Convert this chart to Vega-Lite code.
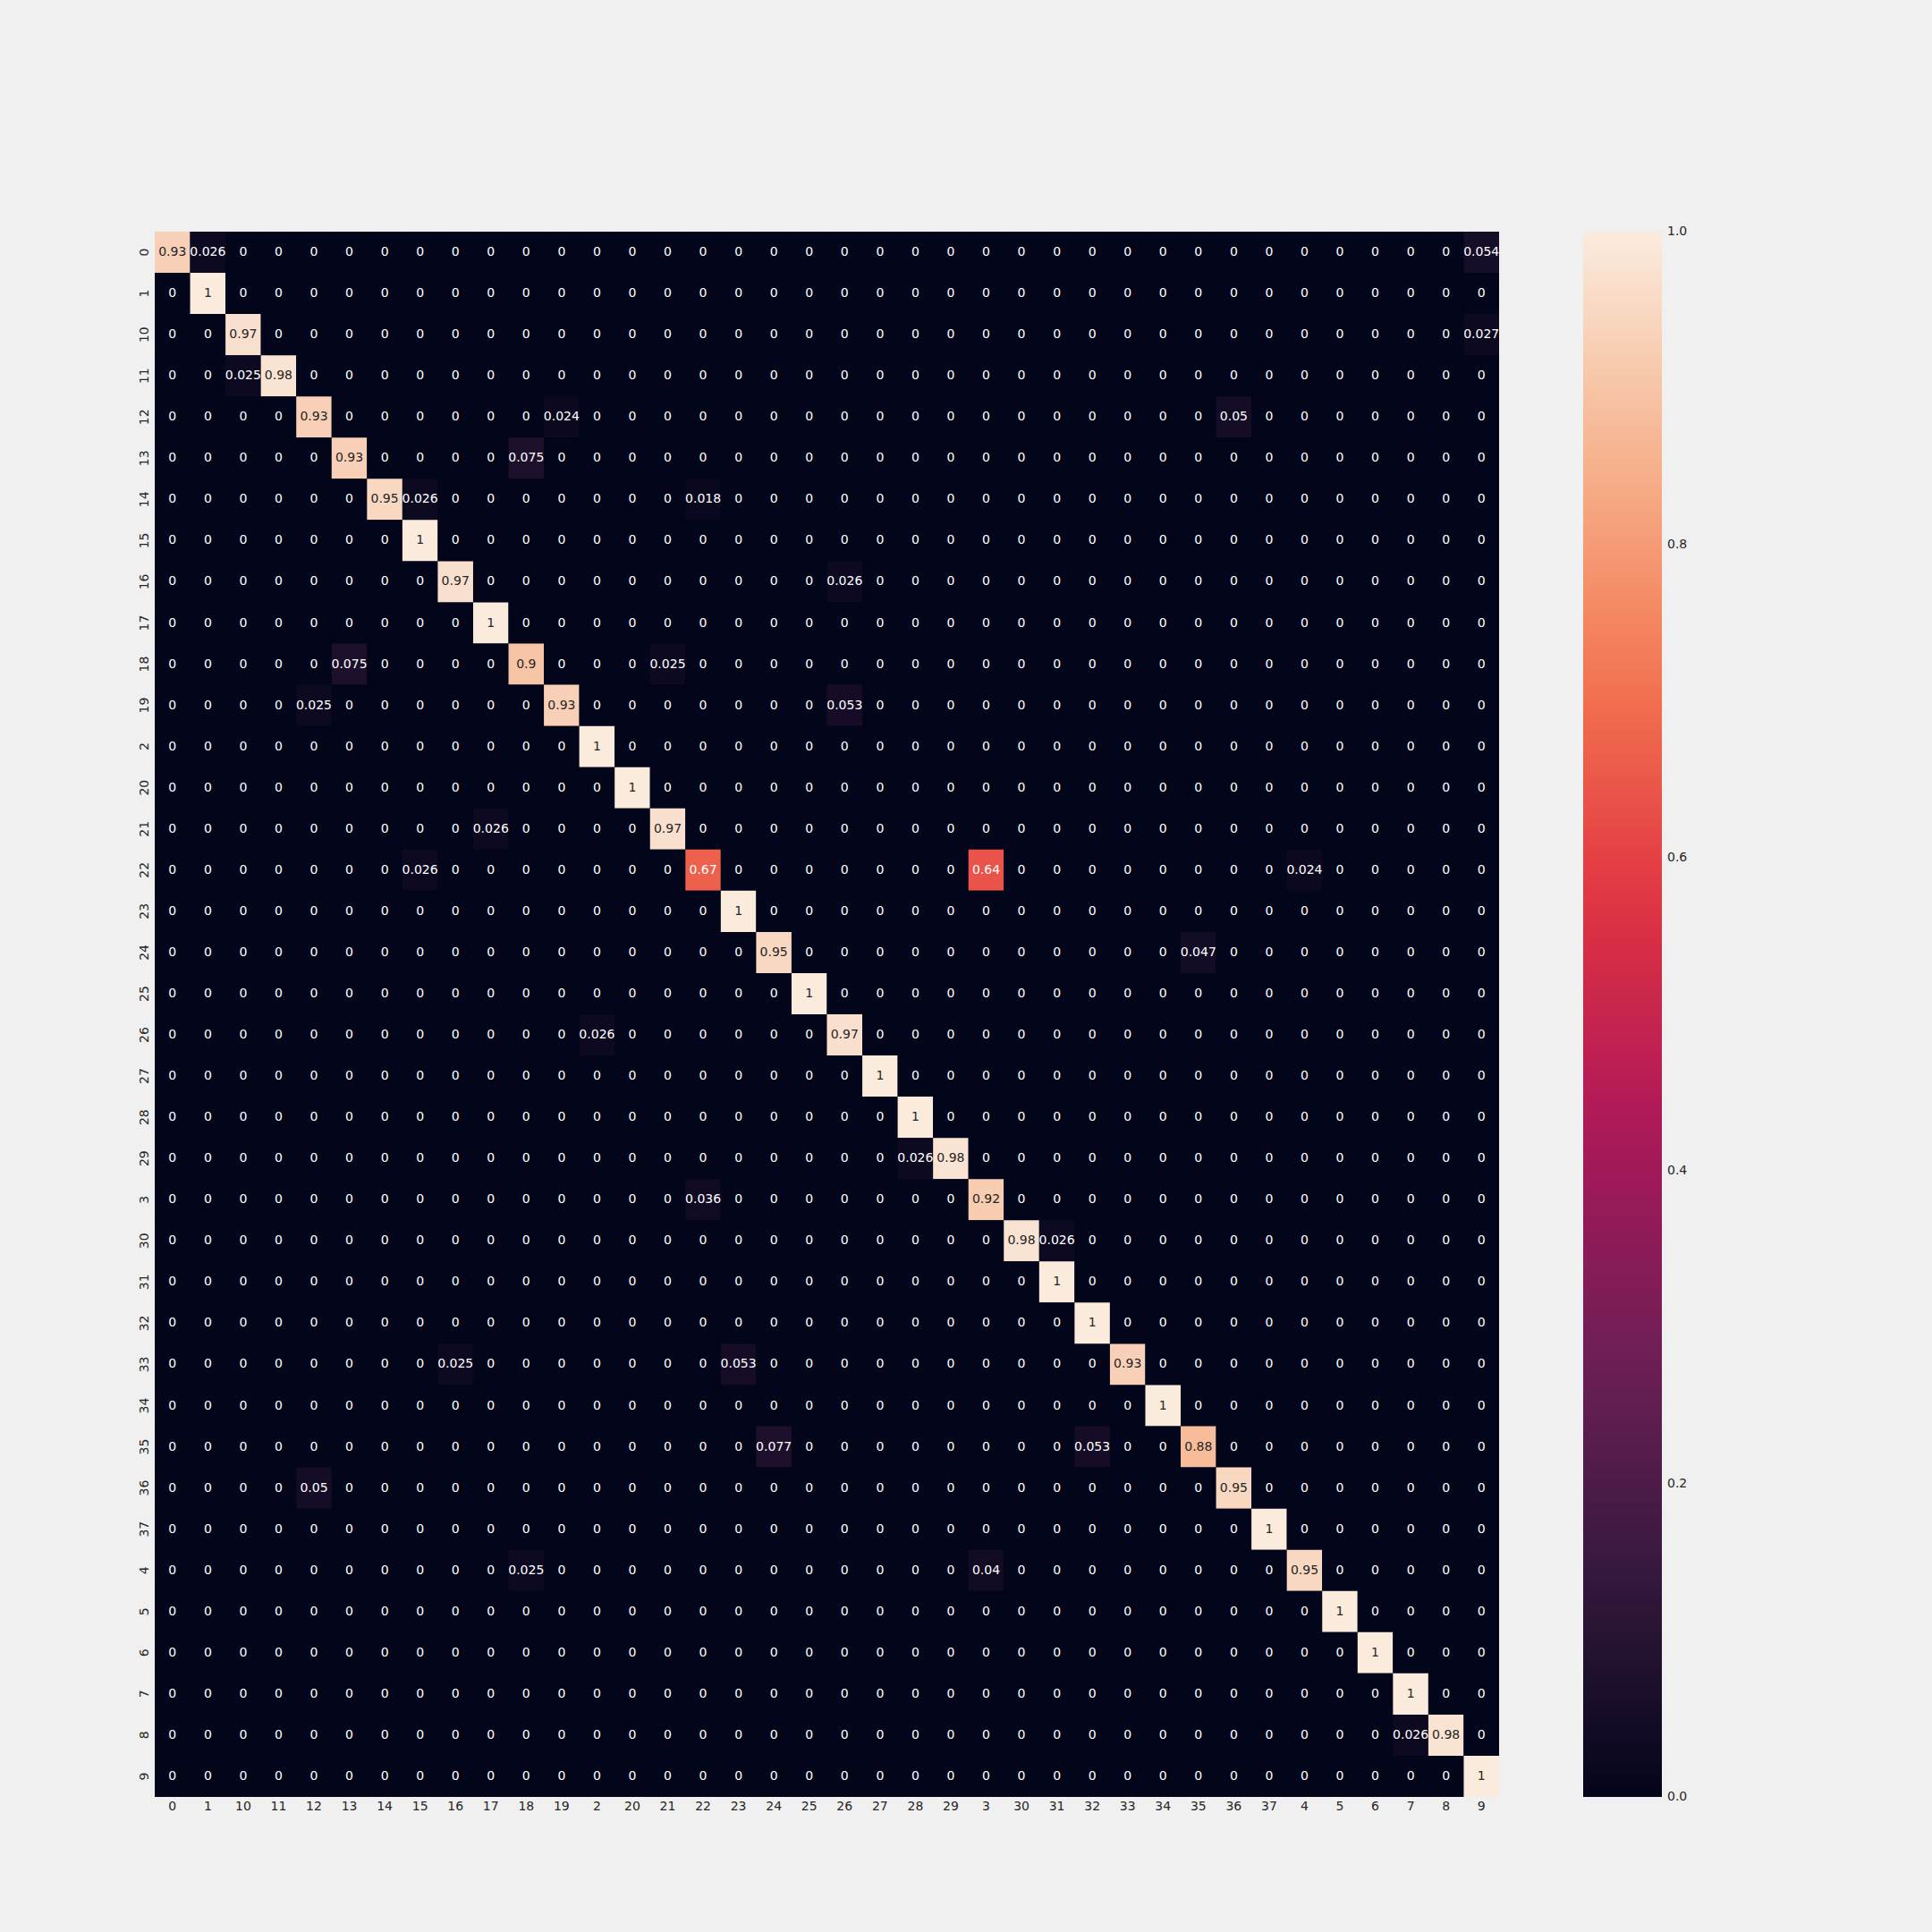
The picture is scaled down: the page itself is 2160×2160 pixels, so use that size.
{
"$schema":"https://vega.github.io/schema/vega-lite/v6.json",
"background":"#f0f0f0",
"autosize":{"type":"none"},
"padding":{"left":173,"top":259,"right":484,"bottom":151},
"width":1503,
"height":1750,
"config":{"view":{"stroke":null,"fill":"#03051a"},"font":"DejaVu Sans","axis":{"domain":false,"ticks":false,"labelFontSize":14,"labelColor":"#262626","labelFont":"DejaVu Sans","title":null,"grid":false}},
"datasets":{"cm":[
{"t":"0","p":"0","v":0.93},{"t":"0","p":"1","v":0.026},{"t":"0","p":"10","v":0},{"t":"0","p":"11","v":0},{"t":"0","p":"12","v":0},{"t":"0","p":"13","v":0},{"t":"0","p":"14","v":0},{"t":"0","p":"15","v":0},{"t":"0","p":"16","v":0},{"t":"0","p":"17","v":0},{"t":"0","p":"18","v":0},{"t":"0","p":"19","v":0},{"t":"0","p":"2","v":0},{"t":"0","p":"20","v":0},{"t":"0","p":"21","v":0},{"t":"0","p":"22","v":0},{"t":"0","p":"23","v":0},{"t":"0","p":"24","v":0},{"t":"0","p":"25","v":0},{"t":"0","p":"26","v":0},{"t":"0","p":"27","v":0},{"t":"0","p":"28","v":0},{"t":"0","p":"29","v":0},{"t":"0","p":"3","v":0},{"t":"0","p":"30","v":0},{"t":"0","p":"31","v":0},{"t":"0","p":"32","v":0},{"t":"0","p":"33","v":0},{"t":"0","p":"34","v":0},{"t":"0","p":"35","v":0},{"t":"0","p":"36","v":0},{"t":"0","p":"37","v":0},{"t":"0","p":"4","v":0},{"t":"0","p":"5","v":0},{"t":"0","p":"6","v":0},{"t":"0","p":"7","v":0},{"t":"0","p":"8","v":0},{"t":"0","p":"9","v":0.054},
{"t":"1","p":"0","v":0},{"t":"1","p":"1","v":1},{"t":"1","p":"10","v":0},{"t":"1","p":"11","v":0},{"t":"1","p":"12","v":0},{"t":"1","p":"13","v":0},{"t":"1","p":"14","v":0},{"t":"1","p":"15","v":0},{"t":"1","p":"16","v":0},{"t":"1","p":"17","v":0},{"t":"1","p":"18","v":0},{"t":"1","p":"19","v":0},{"t":"1","p":"2","v":0},{"t":"1","p":"20","v":0},{"t":"1","p":"21","v":0},{"t":"1","p":"22","v":0},{"t":"1","p":"23","v":0},{"t":"1","p":"24","v":0},{"t":"1","p":"25","v":0},{"t":"1","p":"26","v":0},{"t":"1","p":"27","v":0},{"t":"1","p":"28","v":0},{"t":"1","p":"29","v":0},{"t":"1","p":"3","v":0},{"t":"1","p":"30","v":0},{"t":"1","p":"31","v":0},{"t":"1","p":"32","v":0},{"t":"1","p":"33","v":0},{"t":"1","p":"34","v":0},{"t":"1","p":"35","v":0},{"t":"1","p":"36","v":0},{"t":"1","p":"37","v":0},{"t":"1","p":"4","v":0},{"t":"1","p":"5","v":0},{"t":"1","p":"6","v":0},{"t":"1","p":"7","v":0},{"t":"1","p":"8","v":0},{"t":"1","p":"9","v":0},
{"t":"10","p":"0","v":0},{"t":"10","p":"1","v":0},{"t":"10","p":"10","v":0.97},{"t":"10","p":"11","v":0},{"t":"10","p":"12","v":0},{"t":"10","p":"13","v":0},{"t":"10","p":"14","v":0},{"t":"10","p":"15","v":0},{"t":"10","p":"16","v":0},{"t":"10","p":"17","v":0},{"t":"10","p":"18","v":0},{"t":"10","p":"19","v":0},{"t":"10","p":"2","v":0},{"t":"10","p":"20","v":0},{"t":"10","p":"21","v":0},{"t":"10","p":"22","v":0},{"t":"10","p":"23","v":0},{"t":"10","p":"24","v":0},{"t":"10","p":"25","v":0},{"t":"10","p":"26","v":0},{"t":"10","p":"27","v":0},{"t":"10","p":"28","v":0},{"t":"10","p":"29","v":0},{"t":"10","p":"3","v":0},{"t":"10","p":"30","v":0},{"t":"10","p":"31","v":0},{"t":"10","p":"32","v":0},{"t":"10","p":"33","v":0},{"t":"10","p":"34","v":0},{"t":"10","p":"35","v":0},{"t":"10","p":"36","v":0},{"t":"10","p":"37","v":0},{"t":"10","p":"4","v":0},{"t":"10","p":"5","v":0},{"t":"10","p":"6","v":0},{"t":"10","p":"7","v":0},{"t":"10","p":"8","v":0},{"t":"10","p":"9","v":0.027},
{"t":"11","p":"0","v":0},{"t":"11","p":"1","v":0},{"t":"11","p":"10","v":0.025},{"t":"11","p":"11","v":0.98},{"t":"11","p":"12","v":0},{"t":"11","p":"13","v":0},{"t":"11","p":"14","v":0},{"t":"11","p":"15","v":0},{"t":"11","p":"16","v":0},{"t":"11","p":"17","v":0},{"t":"11","p":"18","v":0},{"t":"11","p":"19","v":0},{"t":"11","p":"2","v":0},{"t":"11","p":"20","v":0},{"t":"11","p":"21","v":0},{"t":"11","p":"22","v":0},{"t":"11","p":"23","v":0},{"t":"11","p":"24","v":0},{"t":"11","p":"25","v":0},{"t":"11","p":"26","v":0},{"t":"11","p":"27","v":0},{"t":"11","p":"28","v":0},{"t":"11","p":"29","v":0},{"t":"11","p":"3","v":0},{"t":"11","p":"30","v":0},{"t":"11","p":"31","v":0},{"t":"11","p":"32","v":0},{"t":"11","p":"33","v":0},{"t":"11","p":"34","v":0},{"t":"11","p":"35","v":0},{"t":"11","p":"36","v":0},{"t":"11","p":"37","v":0},{"t":"11","p":"4","v":0},{"t":"11","p":"5","v":0},{"t":"11","p":"6","v":0},{"t":"11","p":"7","v":0},{"t":"11","p":"8","v":0},{"t":"11","p":"9","v":0},
{"t":"12","p":"0","v":0},{"t":"12","p":"1","v":0},{"t":"12","p":"10","v":0},{"t":"12","p":"11","v":0},{"t":"12","p":"12","v":0.93},{"t":"12","p":"13","v":0},{"t":"12","p":"14","v":0},{"t":"12","p":"15","v":0},{"t":"12","p":"16","v":0},{"t":"12","p":"17","v":0},{"t":"12","p":"18","v":0},{"t":"12","p":"19","v":0.024},{"t":"12","p":"2","v":0},{"t":"12","p":"20","v":0},{"t":"12","p":"21","v":0},{"t":"12","p":"22","v":0},{"t":"12","p":"23","v":0},{"t":"12","p":"24","v":0},{"t":"12","p":"25","v":0},{"t":"12","p":"26","v":0},{"t":"12","p":"27","v":0},{"t":"12","p":"28","v":0},{"t":"12","p":"29","v":0},{"t":"12","p":"3","v":0},{"t":"12","p":"30","v":0},{"t":"12","p":"31","v":0},{"t":"12","p":"32","v":0},{"t":"12","p":"33","v":0},{"t":"12","p":"34","v":0},{"t":"12","p":"35","v":0},{"t":"12","p":"36","v":0.05},{"t":"12","p":"37","v":0},{"t":"12","p":"4","v":0},{"t":"12","p":"5","v":0},{"t":"12","p":"6","v":0},{"t":"12","p":"7","v":0},{"t":"12","p":"8","v":0},{"t":"12","p":"9","v":0},
{"t":"13","p":"0","v":0},{"t":"13","p":"1","v":0},{"t":"13","p":"10","v":0},{"t":"13","p":"11","v":0},{"t":"13","p":"12","v":0},{"t":"13","p":"13","v":0.93},{"t":"13","p":"14","v":0},{"t":"13","p":"15","v":0},{"t":"13","p":"16","v":0},{"t":"13","p":"17","v":0},{"t":"13","p":"18","v":0.075},{"t":"13","p":"19","v":0},{"t":"13","p":"2","v":0},{"t":"13","p":"20","v":0},{"t":"13","p":"21","v":0},{"t":"13","p":"22","v":0},{"t":"13","p":"23","v":0},{"t":"13","p":"24","v":0},{"t":"13","p":"25","v":0},{"t":"13","p":"26","v":0},{"t":"13","p":"27","v":0},{"t":"13","p":"28","v":0},{"t":"13","p":"29","v":0},{"t":"13","p":"3","v":0},{"t":"13","p":"30","v":0},{"t":"13","p":"31","v":0},{"t":"13","p":"32","v":0},{"t":"13","p":"33","v":0},{"t":"13","p":"34","v":0},{"t":"13","p":"35","v":0},{"t":"13","p":"36","v":0},{"t":"13","p":"37","v":0},{"t":"13","p":"4","v":0},{"t":"13","p":"5","v":0},{"t":"13","p":"6","v":0},{"t":"13","p":"7","v":0},{"t":"13","p":"8","v":0},{"t":"13","p":"9","v":0},
{"t":"14","p":"0","v":0},{"t":"14","p":"1","v":0},{"t":"14","p":"10","v":0},{"t":"14","p":"11","v":0},{"t":"14","p":"12","v":0},{"t":"14","p":"13","v":0},{"t":"14","p":"14","v":0.95},{"t":"14","p":"15","v":0.026},{"t":"14","p":"16","v":0},{"t":"14","p":"17","v":0},{"t":"14","p":"18","v":0},{"t":"14","p":"19","v":0},{"t":"14","p":"2","v":0},{"t":"14","p":"20","v":0},{"t":"14","p":"21","v":0},{"t":"14","p":"22","v":0.018},{"t":"14","p":"23","v":0},{"t":"14","p":"24","v":0},{"t":"14","p":"25","v":0},{"t":"14","p":"26","v":0},{"t":"14","p":"27","v":0},{"t":"14","p":"28","v":0},{"t":"14","p":"29","v":0},{"t":"14","p":"3","v":0},{"t":"14","p":"30","v":0},{"t":"14","p":"31","v":0},{"t":"14","p":"32","v":0},{"t":"14","p":"33","v":0},{"t":"14","p":"34","v":0},{"t":"14","p":"35","v":0},{"t":"14","p":"36","v":0},{"t":"14","p":"37","v":0},{"t":"14","p":"4","v":0},{"t":"14","p":"5","v":0},{"t":"14","p":"6","v":0},{"t":"14","p":"7","v":0},{"t":"14","p":"8","v":0},{"t":"14","p":"9","v":0},
{"t":"15","p":"0","v":0},{"t":"15","p":"1","v":0},{"t":"15","p":"10","v":0},{"t":"15","p":"11","v":0},{"t":"15","p":"12","v":0},{"t":"15","p":"13","v":0},{"t":"15","p":"14","v":0},{"t":"15","p":"15","v":1},{"t":"15","p":"16","v":0},{"t":"15","p":"17","v":0},{"t":"15","p":"18","v":0},{"t":"15","p":"19","v":0},{"t":"15","p":"2","v":0},{"t":"15","p":"20","v":0},{"t":"15","p":"21","v":0},{"t":"15","p":"22","v":0},{"t":"15","p":"23","v":0},{"t":"15","p":"24","v":0},{"t":"15","p":"25","v":0},{"t":"15","p":"26","v":0},{"t":"15","p":"27","v":0},{"t":"15","p":"28","v":0},{"t":"15","p":"29","v":0},{"t":"15","p":"3","v":0},{"t":"15","p":"30","v":0},{"t":"15","p":"31","v":0},{"t":"15","p":"32","v":0},{"t":"15","p":"33","v":0},{"t":"15","p":"34","v":0},{"t":"15","p":"35","v":0},{"t":"15","p":"36","v":0},{"t":"15","p":"37","v":0},{"t":"15","p":"4","v":0},{"t":"15","p":"5","v":0},{"t":"15","p":"6","v":0},{"t":"15","p":"7","v":0},{"t":"15","p":"8","v":0},{"t":"15","p":"9","v":0},
{"t":"16","p":"0","v":0},{"t":"16","p":"1","v":0},{"t":"16","p":"10","v":0},{"t":"16","p":"11","v":0},{"t":"16","p":"12","v":0},{"t":"16","p":"13","v":0},{"t":"16","p":"14","v":0},{"t":"16","p":"15","v":0},{"t":"16","p":"16","v":0.97},{"t":"16","p":"17","v":0},{"t":"16","p":"18","v":0},{"t":"16","p":"19","v":0},{"t":"16","p":"2","v":0},{"t":"16","p":"20","v":0},{"t":"16","p":"21","v":0},{"t":"16","p":"22","v":0},{"t":"16","p":"23","v":0},{"t":"16","p":"24","v":0},{"t":"16","p":"25","v":0},{"t":"16","p":"26","v":0.026},{"t":"16","p":"27","v":0},{"t":"16","p":"28","v":0},{"t":"16","p":"29","v":0},{"t":"16","p":"3","v":0},{"t":"16","p":"30","v":0},{"t":"16","p":"31","v":0},{"t":"16","p":"32","v":0},{"t":"16","p":"33","v":0},{"t":"16","p":"34","v":0},{"t":"16","p":"35","v":0},{"t":"16","p":"36","v":0},{"t":"16","p":"37","v":0},{"t":"16","p":"4","v":0},{"t":"16","p":"5","v":0},{"t":"16","p":"6","v":0},{"t":"16","p":"7","v":0},{"t":"16","p":"8","v":0},{"t":"16","p":"9","v":0},
{"t":"17","p":"0","v":0},{"t":"17","p":"1","v":0},{"t":"17","p":"10","v":0},{"t":"17","p":"11","v":0},{"t":"17","p":"12","v":0},{"t":"17","p":"13","v":0},{"t":"17","p":"14","v":0},{"t":"17","p":"15","v":0},{"t":"17","p":"16","v":0},{"t":"17","p":"17","v":1},{"t":"17","p":"18","v":0},{"t":"17","p":"19","v":0},{"t":"17","p":"2","v":0},{"t":"17","p":"20","v":0},{"t":"17","p":"21","v":0},{"t":"17","p":"22","v":0},{"t":"17","p":"23","v":0},{"t":"17","p":"24","v":0},{"t":"17","p":"25","v":0},{"t":"17","p":"26","v":0},{"t":"17","p":"27","v":0},{"t":"17","p":"28","v":0},{"t":"17","p":"29","v":0},{"t":"17","p":"3","v":0},{"t":"17","p":"30","v":0},{"t":"17","p":"31","v":0},{"t":"17","p":"32","v":0},{"t":"17","p":"33","v":0},{"t":"17","p":"34","v":0},{"t":"17","p":"35","v":0},{"t":"17","p":"36","v":0},{"t":"17","p":"37","v":0},{"t":"17","p":"4","v":0},{"t":"17","p":"5","v":0},{"t":"17","p":"6","v":0},{"t":"17","p":"7","v":0},{"t":"17","p":"8","v":0},{"t":"17","p":"9","v":0},
{"t":"18","p":"0","v":0},{"t":"18","p":"1","v":0},{"t":"18","p":"10","v":0},{"t":"18","p":"11","v":0},{"t":"18","p":"12","v":0},{"t":"18","p":"13","v":0.075},{"t":"18","p":"14","v":0},{"t":"18","p":"15","v":0},{"t":"18","p":"16","v":0},{"t":"18","p":"17","v":0},{"t":"18","p":"18","v":0.9},{"t":"18","p":"19","v":0},{"t":"18","p":"2","v":0},{"t":"18","p":"20","v":0},{"t":"18","p":"21","v":0.025},{"t":"18","p":"22","v":0},{"t":"18","p":"23","v":0},{"t":"18","p":"24","v":0},{"t":"18","p":"25","v":0},{"t":"18","p":"26","v":0},{"t":"18","p":"27","v":0},{"t":"18","p":"28","v":0},{"t":"18","p":"29","v":0},{"t":"18","p":"3","v":0},{"t":"18","p":"30","v":0},{"t":"18","p":"31","v":0},{"t":"18","p":"32","v":0},{"t":"18","p":"33","v":0},{"t":"18","p":"34","v":0},{"t":"18","p":"35","v":0},{"t":"18","p":"36","v":0},{"t":"18","p":"37","v":0},{"t":"18","p":"4","v":0},{"t":"18","p":"5","v":0},{"t":"18","p":"6","v":0},{"t":"18","p":"7","v":0},{"t":"18","p":"8","v":0},{"t":"18","p":"9","v":0},
{"t":"19","p":"0","v":0},{"t":"19","p":"1","v":0},{"t":"19","p":"10","v":0},{"t":"19","p":"11","v":0},{"t":"19","p":"12","v":0.025},{"t":"19","p":"13","v":0},{"t":"19","p":"14","v":0},{"t":"19","p":"15","v":0},{"t":"19","p":"16","v":0},{"t":"19","p":"17","v":0},{"t":"19","p":"18","v":0},{"t":"19","p":"19","v":0.93},{"t":"19","p":"2","v":0},{"t":"19","p":"20","v":0},{"t":"19","p":"21","v":0},{"t":"19","p":"22","v":0},{"t":"19","p":"23","v":0},{"t":"19","p":"24","v":0},{"t":"19","p":"25","v":0},{"t":"19","p":"26","v":0.053},{"t":"19","p":"27","v":0},{"t":"19","p":"28","v":0},{"t":"19","p":"29","v":0},{"t":"19","p":"3","v":0},{"t":"19","p":"30","v":0},{"t":"19","p":"31","v":0},{"t":"19","p":"32","v":0},{"t":"19","p":"33","v":0},{"t":"19","p":"34","v":0},{"t":"19","p":"35","v":0},{"t":"19","p":"36","v":0},{"t":"19","p":"37","v":0},{"t":"19","p":"4","v":0},{"t":"19","p":"5","v":0},{"t":"19","p":"6","v":0},{"t":"19","p":"7","v":0},{"t":"19","p":"8","v":0},{"t":"19","p":"9","v":0},
{"t":"2","p":"0","v":0},{"t":"2","p":"1","v":0},{"t":"2","p":"10","v":0},{"t":"2","p":"11","v":0},{"t":"2","p":"12","v":0},{"t":"2","p":"13","v":0},{"t":"2","p":"14","v":0},{"t":"2","p":"15","v":0},{"t":"2","p":"16","v":0},{"t":"2","p":"17","v":0},{"t":"2","p":"18","v":0},{"t":"2","p":"19","v":0},{"t":"2","p":"2","v":1},{"t":"2","p":"20","v":0},{"t":"2","p":"21","v":0},{"t":"2","p":"22","v":0},{"t":"2","p":"23","v":0},{"t":"2","p":"24","v":0},{"t":"2","p":"25","v":0},{"t":"2","p":"26","v":0},{"t":"2","p":"27","v":0},{"t":"2","p":"28","v":0},{"t":"2","p":"29","v":0},{"t":"2","p":"3","v":0},{"t":"2","p":"30","v":0},{"t":"2","p":"31","v":0},{"t":"2","p":"32","v":0},{"t":"2","p":"33","v":0},{"t":"2","p":"34","v":0},{"t":"2","p":"35","v":0},{"t":"2","p":"36","v":0},{"t":"2","p":"37","v":0},{"t":"2","p":"4","v":0},{"t":"2","p":"5","v":0},{"t":"2","p":"6","v":0},{"t":"2","p":"7","v":0},{"t":"2","p":"8","v":0},{"t":"2","p":"9","v":0},
{"t":"20","p":"0","v":0},{"t":"20","p":"1","v":0},{"t":"20","p":"10","v":0},{"t":"20","p":"11","v":0},{"t":"20","p":"12","v":0},{"t":"20","p":"13","v":0},{"t":"20","p":"14","v":0},{"t":"20","p":"15","v":0},{"t":"20","p":"16","v":0},{"t":"20","p":"17","v":0},{"t":"20","p":"18","v":0},{"t":"20","p":"19","v":0},{"t":"20","p":"2","v":0},{"t":"20","p":"20","v":1},{"t":"20","p":"21","v":0},{"t":"20","p":"22","v":0},{"t":"20","p":"23","v":0},{"t":"20","p":"24","v":0},{"t":"20","p":"25","v":0},{"t":"20","p":"26","v":0},{"t":"20","p":"27","v":0},{"t":"20","p":"28","v":0},{"t":"20","p":"29","v":0},{"t":"20","p":"3","v":0},{"t":"20","p":"30","v":0},{"t":"20","p":"31","v":0},{"t":"20","p":"32","v":0},{"t":"20","p":"33","v":0},{"t":"20","p":"34","v":0},{"t":"20","p":"35","v":0},{"t":"20","p":"36","v":0},{"t":"20","p":"37","v":0},{"t":"20","p":"4","v":0},{"t":"20","p":"5","v":0},{"t":"20","p":"6","v":0},{"t":"20","p":"7","v":0},{"t":"20","p":"8","v":0},{"t":"20","p":"9","v":0},
{"t":"21","p":"0","v":0},{"t":"21","p":"1","v":0},{"t":"21","p":"10","v":0},{"t":"21","p":"11","v":0},{"t":"21","p":"12","v":0},{"t":"21","p":"13","v":0},{"t":"21","p":"14","v":0},{"t":"21","p":"15","v":0},{"t":"21","p":"16","v":0},{"t":"21","p":"17","v":0.026},{"t":"21","p":"18","v":0},{"t":"21","p":"19","v":0},{"t":"21","p":"2","v":0},{"t":"21","p":"20","v":0},{"t":"21","p":"21","v":0.97},{"t":"21","p":"22","v":0},{"t":"21","p":"23","v":0},{"t":"21","p":"24","v":0},{"t":"21","p":"25","v":0},{"t":"21","p":"26","v":0},{"t":"21","p":"27","v":0},{"t":"21","p":"28","v":0},{"t":"21","p":"29","v":0},{"t":"21","p":"3","v":0},{"t":"21","p":"30","v":0},{"t":"21","p":"31","v":0},{"t":"21","p":"32","v":0},{"t":"21","p":"33","v":0},{"t":"21","p":"34","v":0},{"t":"21","p":"35","v":0},{"t":"21","p":"36","v":0},{"t":"21","p":"37","v":0},{"t":"21","p":"4","v":0},{"t":"21","p":"5","v":0},{"t":"21","p":"6","v":0},{"t":"21","p":"7","v":0},{"t":"21","p":"8","v":0},{"t":"21","p":"9","v":0},
{"t":"22","p":"0","v":0},{"t":"22","p":"1","v":0},{"t":"22","p":"10","v":0},{"t":"22","p":"11","v":0},{"t":"22","p":"12","v":0},{"t":"22","p":"13","v":0},{"t":"22","p":"14","v":0},{"t":"22","p":"15","v":0.026},{"t":"22","p":"16","v":0},{"t":"22","p":"17","v":0},{"t":"22","p":"18","v":0},{"t":"22","p":"19","v":0},{"t":"22","p":"2","v":0},{"t":"22","p":"20","v":0},{"t":"22","p":"21","v":0},{"t":"22","p":"22","v":0.67},{"t":"22","p":"23","v":0},{"t":"22","p":"24","v":0},{"t":"22","p":"25","v":0},{"t":"22","p":"26","v":0},{"t":"22","p":"27","v":0},{"t":"22","p":"28","v":0},{"t":"22","p":"29","v":0},{"t":"22","p":"3","v":0.64},{"t":"22","p":"30","v":0},{"t":"22","p":"31","v":0},{"t":"22","p":"32","v":0},{"t":"22","p":"33","v":0},{"t":"22","p":"34","v":0},{"t":"22","p":"35","v":0},{"t":"22","p":"36","v":0},{"t":"22","p":"37","v":0},{"t":"22","p":"4","v":0.024},{"t":"22","p":"5","v":0},{"t":"22","p":"6","v":0},{"t":"22","p":"7","v":0},{"t":"22","p":"8","v":0},{"t":"22","p":"9","v":0},
{"t":"23","p":"0","v":0},{"t":"23","p":"1","v":0},{"t":"23","p":"10","v":0},{"t":"23","p":"11","v":0},{"t":"23","p":"12","v":0},{"t":"23","p":"13","v":0},{"t":"23","p":"14","v":0},{"t":"23","p":"15","v":0},{"t":"23","p":"16","v":0},{"t":"23","p":"17","v":0},{"t":"23","p":"18","v":0},{"t":"23","p":"19","v":0},{"t":"23","p":"2","v":0},{"t":"23","p":"20","v":0},{"t":"23","p":"21","v":0},{"t":"23","p":"22","v":0},{"t":"23","p":"23","v":1},{"t":"23","p":"24","v":0},{"t":"23","p":"25","v":0},{"t":"23","p":"26","v":0},{"t":"23","p":"27","v":0},{"t":"23","p":"28","v":0},{"t":"23","p":"29","v":0},{"t":"23","p":"3","v":0},{"t":"23","p":"30","v":0},{"t":"23","p":"31","v":0},{"t":"23","p":"32","v":0},{"t":"23","p":"33","v":0},{"t":"23","p":"34","v":0},{"t":"23","p":"35","v":0},{"t":"23","p":"36","v":0},{"t":"23","p":"37","v":0},{"t":"23","p":"4","v":0},{"t":"23","p":"5","v":0},{"t":"23","p":"6","v":0},{"t":"23","p":"7","v":0},{"t":"23","p":"8","v":0},{"t":"23","p":"9","v":0},
{"t":"24","p":"0","v":0},{"t":"24","p":"1","v":0},{"t":"24","p":"10","v":0},{"t":"24","p":"11","v":0},{"t":"24","p":"12","v":0},{"t":"24","p":"13","v":0},{"t":"24","p":"14","v":0},{"t":"24","p":"15","v":0},{"t":"24","p":"16","v":0},{"t":"24","p":"17","v":0},{"t":"24","p":"18","v":0},{"t":"24","p":"19","v":0},{"t":"24","p":"2","v":0},{"t":"24","p":"20","v":0},{"t":"24","p":"21","v":0},{"t":"24","p":"22","v":0},{"t":"24","p":"23","v":0},{"t":"24","p":"24","v":0.95},{"t":"24","p":"25","v":0},{"t":"24","p":"26","v":0},{"t":"24","p":"27","v":0},{"t":"24","p":"28","v":0},{"t":"24","p":"29","v":0},{"t":"24","p":"3","v":0},{"t":"24","p":"30","v":0},{"t":"24","p":"31","v":0},{"t":"24","p":"32","v":0},{"t":"24","p":"33","v":0},{"t":"24","p":"34","v":0},{"t":"24","p":"35","v":0.047},{"t":"24","p":"36","v":0},{"t":"24","p":"37","v":0},{"t":"24","p":"4","v":0},{"t":"24","p":"5","v":0},{"t":"24","p":"6","v":0},{"t":"24","p":"7","v":0},{"t":"24","p":"8","v":0},{"t":"24","p":"9","v":0},
{"t":"25","p":"0","v":0},{"t":"25","p":"1","v":0},{"t":"25","p":"10","v":0},{"t":"25","p":"11","v":0},{"t":"25","p":"12","v":0},{"t":"25","p":"13","v":0},{"t":"25","p":"14","v":0},{"t":"25","p":"15","v":0},{"t":"25","p":"16","v":0},{"t":"25","p":"17","v":0},{"t":"25","p":"18","v":0},{"t":"25","p":"19","v":0},{"t":"25","p":"2","v":0},{"t":"25","p":"20","v":0},{"t":"25","p":"21","v":0},{"t":"25","p":"22","v":0},{"t":"25","p":"23","v":0},{"t":"25","p":"24","v":0},{"t":"25","p":"25","v":1},{"t":"25","p":"26","v":0},{"t":"25","p":"27","v":0},{"t":"25","p":"28","v":0},{"t":"25","p":"29","v":0},{"t":"25","p":"3","v":0},{"t":"25","p":"30","v":0},{"t":"25","p":"31","v":0},{"t":"25","p":"32","v":0},{"t":"25","p":"33","v":0},{"t":"25","p":"34","v":0},{"t":"25","p":"35","v":0},{"t":"25","p":"36","v":0},{"t":"25","p":"37","v":0},{"t":"25","p":"4","v":0},{"t":"25","p":"5","v":0},{"t":"25","p":"6","v":0},{"t":"25","p":"7","v":0},{"t":"25","p":"8","v":0},{"t":"25","p":"9","v":0},
{"t":"26","p":"0","v":0},{"t":"26","p":"1","v":0},{"t":"26","p":"10","v":0},{"t":"26","p":"11","v":0},{"t":"26","p":"12","v":0},{"t":"26","p":"13","v":0},{"t":"26","p":"14","v":0},{"t":"26","p":"15","v":0},{"t":"26","p":"16","v":0},{"t":"26","p":"17","v":0},{"t":"26","p":"18","v":0},{"t":"26","p":"19","v":0},{"t":"26","p":"2","v":0.026},{"t":"26","p":"20","v":0},{"t":"26","p":"21","v":0},{"t":"26","p":"22","v":0},{"t":"26","p":"23","v":0},{"t":"26","p":"24","v":0},{"t":"26","p":"25","v":0},{"t":"26","p":"26","v":0.97},{"t":"26","p":"27","v":0},{"t":"26","p":"28","v":0},{"t":"26","p":"29","v":0},{"t":"26","p":"3","v":0},{"t":"26","p":"30","v":0},{"t":"26","p":"31","v":0},{"t":"26","p":"32","v":0},{"t":"26","p":"33","v":0},{"t":"26","p":"34","v":0},{"t":"26","p":"35","v":0},{"t":"26","p":"36","v":0},{"t":"26","p":"37","v":0},{"t":"26","p":"4","v":0},{"t":"26","p":"5","v":0},{"t":"26","p":"6","v":0},{"t":"26","p":"7","v":0},{"t":"26","p":"8","v":0},{"t":"26","p":"9","v":0},
{"t":"27","p":"0","v":0},{"t":"27","p":"1","v":0},{"t":"27","p":"10","v":0},{"t":"27","p":"11","v":0},{"t":"27","p":"12","v":0},{"t":"27","p":"13","v":0},{"t":"27","p":"14","v":0},{"t":"27","p":"15","v":0},{"t":"27","p":"16","v":0},{"t":"27","p":"17","v":0},{"t":"27","p":"18","v":0},{"t":"27","p":"19","v":0},{"t":"27","p":"2","v":0},{"t":"27","p":"20","v":0},{"t":"27","p":"21","v":0},{"t":"27","p":"22","v":0},{"t":"27","p":"23","v":0},{"t":"27","p":"24","v":0},{"t":"27","p":"25","v":0},{"t":"27","p":"26","v":0},{"t":"27","p":"27","v":1},{"t":"27","p":"28","v":0},{"t":"27","p":"29","v":0},{"t":"27","p":"3","v":0},{"t":"27","p":"30","v":0},{"t":"27","p":"31","v":0},{"t":"27","p":"32","v":0},{"t":"27","p":"33","v":0},{"t":"27","p":"34","v":0},{"t":"27","p":"35","v":0},{"t":"27","p":"36","v":0},{"t":"27","p":"37","v":0},{"t":"27","p":"4","v":0},{"t":"27","p":"5","v":0},{"t":"27","p":"6","v":0},{"t":"27","p":"7","v":0},{"t":"27","p":"8","v":0},{"t":"27","p":"9","v":0},
{"t":"28","p":"0","v":0},{"t":"28","p":"1","v":0},{"t":"28","p":"10","v":0},{"t":"28","p":"11","v":0},{"t":"28","p":"12","v":0},{"t":"28","p":"13","v":0},{"t":"28","p":"14","v":0},{"t":"28","p":"15","v":0},{"t":"28","p":"16","v":0},{"t":"28","p":"17","v":0},{"t":"28","p":"18","v":0},{"t":"28","p":"19","v":0},{"t":"28","p":"2","v":0},{"t":"28","p":"20","v":0},{"t":"28","p":"21","v":0},{"t":"28","p":"22","v":0},{"t":"28","p":"23","v":0},{"t":"28","p":"24","v":0},{"t":"28","p":"25","v":0},{"t":"28","p":"26","v":0},{"t":"28","p":"27","v":0},{"t":"28","p":"28","v":1},{"t":"28","p":"29","v":0},{"t":"28","p":"3","v":0},{"t":"28","p":"30","v":0},{"t":"28","p":"31","v":0},{"t":"28","p":"32","v":0},{"t":"28","p":"33","v":0},{"t":"28","p":"34","v":0},{"t":"28","p":"35","v":0},{"t":"28","p":"36","v":0},{"t":"28","p":"37","v":0},{"t":"28","p":"4","v":0},{"t":"28","p":"5","v":0},{"t":"28","p":"6","v":0},{"t":"28","p":"7","v":0},{"t":"28","p":"8","v":0},{"t":"28","p":"9","v":0},
{"t":"29","p":"0","v":0},{"t":"29","p":"1","v":0},{"t":"29","p":"10","v":0},{"t":"29","p":"11","v":0},{"t":"29","p":"12","v":0},{"t":"29","p":"13","v":0},{"t":"29","p":"14","v":0},{"t":"29","p":"15","v":0},{"t":"29","p":"16","v":0},{"t":"29","p":"17","v":0},{"t":"29","p":"18","v":0},{"t":"29","p":"19","v":0},{"t":"29","p":"2","v":0},{"t":"29","p":"20","v":0},{"t":"29","p":"21","v":0},{"t":"29","p":"22","v":0},{"t":"29","p":"23","v":0},{"t":"29","p":"24","v":0},{"t":"29","p":"25","v":0},{"t":"29","p":"26","v":0},{"t":"29","p":"27","v":0},{"t":"29","p":"28","v":0.026},{"t":"29","p":"29","v":0.98},{"t":"29","p":"3","v":0},{"t":"29","p":"30","v":0},{"t":"29","p":"31","v":0},{"t":"29","p":"32","v":0},{"t":"29","p":"33","v":0},{"t":"29","p":"34","v":0},{"t":"29","p":"35","v":0},{"t":"29","p":"36","v":0},{"t":"29","p":"37","v":0},{"t":"29","p":"4","v":0},{"t":"29","p":"5","v":0},{"t":"29","p":"6","v":0},{"t":"29","p":"7","v":0},{"t":"29","p":"8","v":0},{"t":"29","p":"9","v":0},
{"t":"3","p":"0","v":0},{"t":"3","p":"1","v":0},{"t":"3","p":"10","v":0},{"t":"3","p":"11","v":0},{"t":"3","p":"12","v":0},{"t":"3","p":"13","v":0},{"t":"3","p":"14","v":0},{"t":"3","p":"15","v":0},{"t":"3","p":"16","v":0},{"t":"3","p":"17","v":0},{"t":"3","p":"18","v":0},{"t":"3","p":"19","v":0},{"t":"3","p":"2","v":0},{"t":"3","p":"20","v":0},{"t":"3","p":"21","v":0},{"t":"3","p":"22","v":0.036},{"t":"3","p":"23","v":0},{"t":"3","p":"24","v":0},{"t":"3","p":"25","v":0},{"t":"3","p":"26","v":0},{"t":"3","p":"27","v":0},{"t":"3","p":"28","v":0},{"t":"3","p":"29","v":0},{"t":"3","p":"3","v":0.92},{"t":"3","p":"30","v":0},{"t":"3","p":"31","v":0},{"t":"3","p":"32","v":0},{"t":"3","p":"33","v":0},{"t":"3","p":"34","v":0},{"t":"3","p":"35","v":0},{"t":"3","p":"36","v":0},{"t":"3","p":"37","v":0},{"t":"3","p":"4","v":0},{"t":"3","p":"5","v":0},{"t":"3","p":"6","v":0},{"t":"3","p":"7","v":0},{"t":"3","p":"8","v":0},{"t":"3","p":"9","v":0},
{"t":"30","p":"0","v":0},{"t":"30","p":"1","v":0},{"t":"30","p":"10","v":0},{"t":"30","p":"11","v":0},{"t":"30","p":"12","v":0},{"t":"30","p":"13","v":0},{"t":"30","p":"14","v":0},{"t":"30","p":"15","v":0},{"t":"30","p":"16","v":0},{"t":"30","p":"17","v":0},{"t":"30","p":"18","v":0},{"t":"30","p":"19","v":0},{"t":"30","p":"2","v":0},{"t":"30","p":"20","v":0},{"t":"30","p":"21","v":0},{"t":"30","p":"22","v":0},{"t":"30","p":"23","v":0},{"t":"30","p":"24","v":0},{"t":"30","p":"25","v":0},{"t":"30","p":"26","v":0},{"t":"30","p":"27","v":0},{"t":"30","p":"28","v":0},{"t":"30","p":"29","v":0},{"t":"30","p":"3","v":0},{"t":"30","p":"30","v":0.98},{"t":"30","p":"31","v":0.026},{"t":"30","p":"32","v":0},{"t":"30","p":"33","v":0},{"t":"30","p":"34","v":0},{"t":"30","p":"35","v":0},{"t":"30","p":"36","v":0},{"t":"30","p":"37","v":0},{"t":"30","p":"4","v":0},{"t":"30","p":"5","v":0},{"t":"30","p":"6","v":0},{"t":"30","p":"7","v":0},{"t":"30","p":"8","v":0},{"t":"30","p":"9","v":0},
{"t":"31","p":"0","v":0},{"t":"31","p":"1","v":0},{"t":"31","p":"10","v":0},{"t":"31","p":"11","v":0},{"t":"31","p":"12","v":0},{"t":"31","p":"13","v":0},{"t":"31","p":"14","v":0},{"t":"31","p":"15","v":0},{"t":"31","p":"16","v":0},{"t":"31","p":"17","v":0},{"t":"31","p":"18","v":0},{"t":"31","p":"19","v":0},{"t":"31","p":"2","v":0},{"t":"31","p":"20","v":0},{"t":"31","p":"21","v":0},{"t":"31","p":"22","v":0},{"t":"31","p":"23","v":0},{"t":"31","p":"24","v":0},{"t":"31","p":"25","v":0},{"t":"31","p":"26","v":0},{"t":"31","p":"27","v":0},{"t":"31","p":"28","v":0},{"t":"31","p":"29","v":0},{"t":"31","p":"3","v":0},{"t":"31","p":"30","v":0},{"t":"31","p":"31","v":1},{"t":"31","p":"32","v":0},{"t":"31","p":"33","v":0},{"t":"31","p":"34","v":0},{"t":"31","p":"35","v":0},{"t":"31","p":"36","v":0},{"t":"31","p":"37","v":0},{"t":"31","p":"4","v":0},{"t":"31","p":"5","v":0},{"t":"31","p":"6","v":0},{"t":"31","p":"7","v":0},{"t":"31","p":"8","v":0},{"t":"31","p":"9","v":0},
{"t":"32","p":"0","v":0},{"t":"32","p":"1","v":0},{"t":"32","p":"10","v":0},{"t":"32","p":"11","v":0},{"t":"32","p":"12","v":0},{"t":"32","p":"13","v":0},{"t":"32","p":"14","v":0},{"t":"32","p":"15","v":0},{"t":"32","p":"16","v":0},{"t":"32","p":"17","v":0},{"t":"32","p":"18","v":0},{"t":"32","p":"19","v":0},{"t":"32","p":"2","v":0},{"t":"32","p":"20","v":0},{"t":"32","p":"21","v":0},{"t":"32","p":"22","v":0},{"t":"32","p":"23","v":0},{"t":"32","p":"24","v":0},{"t":"32","p":"25","v":0},{"t":"32","p":"26","v":0},{"t":"32","p":"27","v":0},{"t":"32","p":"28","v":0},{"t":"32","p":"29","v":0},{"t":"32","p":"3","v":0},{"t":"32","p":"30","v":0},{"t":"32","p":"31","v":0},{"t":"32","p":"32","v":1},{"t":"32","p":"33","v":0},{"t":"32","p":"34","v":0},{"t":"32","p":"35","v":0},{"t":"32","p":"36","v":0},{"t":"32","p":"37","v":0},{"t":"32","p":"4","v":0},{"t":"32","p":"5","v":0},{"t":"32","p":"6","v":0},{"t":"32","p":"7","v":0},{"t":"32","p":"8","v":0},{"t":"32","p":"9","v":0},
{"t":"33","p":"0","v":0},{"t":"33","p":"1","v":0},{"t":"33","p":"10","v":0},{"t":"33","p":"11","v":0},{"t":"33","p":"12","v":0},{"t":"33","p":"13","v":0},{"t":"33","p":"14","v":0},{"t":"33","p":"15","v":0},{"t":"33","p":"16","v":0.025},{"t":"33","p":"17","v":0},{"t":"33","p":"18","v":0},{"t":"33","p":"19","v":0},{"t":"33","p":"2","v":0},{"t":"33","p":"20","v":0},{"t":"33","p":"21","v":0},{"t":"33","p":"22","v":0},{"t":"33","p":"23","v":0.053},{"t":"33","p":"24","v":0},{"t":"33","p":"25","v":0},{"t":"33","p":"26","v":0},{"t":"33","p":"27","v":0},{"t":"33","p":"28","v":0},{"t":"33","p":"29","v":0},{"t":"33","p":"3","v":0},{"t":"33","p":"30","v":0},{"t":"33","p":"31","v":0},{"t":"33","p":"32","v":0},{"t":"33","p":"33","v":0.93},{"t":"33","p":"34","v":0},{"t":"33","p":"35","v":0},{"t":"33","p":"36","v":0},{"t":"33","p":"37","v":0},{"t":"33","p":"4","v":0},{"t":"33","p":"5","v":0},{"t":"33","p":"6","v":0},{"t":"33","p":"7","v":0},{"t":"33","p":"8","v":0},{"t":"33","p":"9","v":0},
{"t":"34","p":"0","v":0},{"t":"34","p":"1","v":0},{"t":"34","p":"10","v":0},{"t":"34","p":"11","v":0},{"t":"34","p":"12","v":0},{"t":"34","p":"13","v":0},{"t":"34","p":"14","v":0},{"t":"34","p":"15","v":0},{"t":"34","p":"16","v":0},{"t":"34","p":"17","v":0},{"t":"34","p":"18","v":0},{"t":"34","p":"19","v":0},{"t":"34","p":"2","v":0},{"t":"34","p":"20","v":0},{"t":"34","p":"21","v":0},{"t":"34","p":"22","v":0},{"t":"34","p":"23","v":0},{"t":"34","p":"24","v":0},{"t":"34","p":"25","v":0},{"t":"34","p":"26","v":0},{"t":"34","p":"27","v":0},{"t":"34","p":"28","v":0},{"t":"34","p":"29","v":0},{"t":"34","p":"3","v":0},{"t":"34","p":"30","v":0},{"t":"34","p":"31","v":0},{"t":"34","p":"32","v":0},{"t":"34","p":"33","v":0},{"t":"34","p":"34","v":1},{"t":"34","p":"35","v":0},{"t":"34","p":"36","v":0},{"t":"34","p":"37","v":0},{"t":"34","p":"4","v":0},{"t":"34","p":"5","v":0},{"t":"34","p":"6","v":0},{"t":"34","p":"7","v":0},{"t":"34","p":"8","v":0},{"t":"34","p":"9","v":0},
{"t":"35","p":"0","v":0},{"t":"35","p":"1","v":0},{"t":"35","p":"10","v":0},{"t":"35","p":"11","v":0},{"t":"35","p":"12","v":0},{"t":"35","p":"13","v":0},{"t":"35","p":"14","v":0},{"t":"35","p":"15","v":0},{"t":"35","p":"16","v":0},{"t":"35","p":"17","v":0},{"t":"35","p":"18","v":0},{"t":"35","p":"19","v":0},{"t":"35","p":"2","v":0},{"t":"35","p":"20","v":0},{"t":"35","p":"21","v":0},{"t":"35","p":"22","v":0},{"t":"35","p":"23","v":0},{"t":"35","p":"24","v":0.077},{"t":"35","p":"25","v":0},{"t":"35","p":"26","v":0},{"t":"35","p":"27","v":0},{"t":"35","p":"28","v":0},{"t":"35","p":"29","v":0},{"t":"35","p":"3","v":0},{"t":"35","p":"30","v":0},{"t":"35","p":"31","v":0},{"t":"35","p":"32","v":0.053},{"t":"35","p":"33","v":0},{"t":"35","p":"34","v":0},{"t":"35","p":"35","v":0.88},{"t":"35","p":"36","v":0},{"t":"35","p":"37","v":0},{"t":"35","p":"4","v":0},{"t":"35","p":"5","v":0},{"t":"35","p":"6","v":0},{"t":"35","p":"7","v":0},{"t":"35","p":"8","v":0},{"t":"35","p":"9","v":0},
{"t":"36","p":"0","v":0},{"t":"36","p":"1","v":0},{"t":"36","p":"10","v":0},{"t":"36","p":"11","v":0},{"t":"36","p":"12","v":0.05},{"t":"36","p":"13","v":0},{"t":"36","p":"14","v":0},{"t":"36","p":"15","v":0},{"t":"36","p":"16","v":0},{"t":"36","p":"17","v":0},{"t":"36","p":"18","v":0},{"t":"36","p":"19","v":0},{"t":"36","p":"2","v":0},{"t":"36","p":"20","v":0},{"t":"36","p":"21","v":0},{"t":"36","p":"22","v":0},{"t":"36","p":"23","v":0},{"t":"36","p":"24","v":0},{"t":"36","p":"25","v":0},{"t":"36","p":"26","v":0},{"t":"36","p":"27","v":0},{"t":"36","p":"28","v":0},{"t":"36","p":"29","v":0},{"t":"36","p":"3","v":0},{"t":"36","p":"30","v":0},{"t":"36","p":"31","v":0},{"t":"36","p":"32","v":0},{"t":"36","p":"33","v":0},{"t":"36","p":"34","v":0},{"t":"36","p":"35","v":0},{"t":"36","p":"36","v":0.95},{"t":"36","p":"37","v":0},{"t":"36","p":"4","v":0},{"t":"36","p":"5","v":0},{"t":"36","p":"6","v":0},{"t":"36","p":"7","v":0},{"t":"36","p":"8","v":0},{"t":"36","p":"9","v":0},
{"t":"37","p":"0","v":0},{"t":"37","p":"1","v":0},{"t":"37","p":"10","v":0},{"t":"37","p":"11","v":0},{"t":"37","p":"12","v":0},{"t":"37","p":"13","v":0},{"t":"37","p":"14","v":0},{"t":"37","p":"15","v":0},{"t":"37","p":"16","v":0},{"t":"37","p":"17","v":0},{"t":"37","p":"18","v":0},{"t":"37","p":"19","v":0},{"t":"37","p":"2","v":0},{"t":"37","p":"20","v":0},{"t":"37","p":"21","v":0},{"t":"37","p":"22","v":0},{"t":"37","p":"23","v":0},{"t":"37","p":"24","v":0},{"t":"37","p":"25","v":0},{"t":"37","p":"26","v":0},{"t":"37","p":"27","v":0},{"t":"37","p":"28","v":0},{"t":"37","p":"29","v":0},{"t":"37","p":"3","v":0},{"t":"37","p":"30","v":0},{"t":"37","p":"31","v":0},{"t":"37","p":"32","v":0},{"t":"37","p":"33","v":0},{"t":"37","p":"34","v":0},{"t":"37","p":"35","v":0},{"t":"37","p":"36","v":0},{"t":"37","p":"37","v":1},{"t":"37","p":"4","v":0},{"t":"37","p":"5","v":0},{"t":"37","p":"6","v":0},{"t":"37","p":"7","v":0},{"t":"37","p":"8","v":0},{"t":"37","p":"9","v":0},
{"t":"4","p":"0","v":0},{"t":"4","p":"1","v":0},{"t":"4","p":"10","v":0},{"t":"4","p":"11","v":0},{"t":"4","p":"12","v":0},{"t":"4","p":"13","v":0},{"t":"4","p":"14","v":0},{"t":"4","p":"15","v":0},{"t":"4","p":"16","v":0},{"t":"4","p":"17","v":0},{"t":"4","p":"18","v":0.025},{"t":"4","p":"19","v":0},{"t":"4","p":"2","v":0},{"t":"4","p":"20","v":0},{"t":"4","p":"21","v":0},{"t":"4","p":"22","v":0},{"t":"4","p":"23","v":0},{"t":"4","p":"24","v":0},{"t":"4","p":"25","v":0},{"t":"4","p":"26","v":0},{"t":"4","p":"27","v":0},{"t":"4","p":"28","v":0},{"t":"4","p":"29","v":0},{"t":"4","p":"3","v":0.04},{"t":"4","p":"30","v":0},{"t":"4","p":"31","v":0},{"t":"4","p":"32","v":0},{"t":"4","p":"33","v":0},{"t":"4","p":"34","v":0},{"t":"4","p":"35","v":0},{"t":"4","p":"36","v":0},{"t":"4","p":"37","v":0},{"t":"4","p":"4","v":0.95},{"t":"4","p":"5","v":0},{"t":"4","p":"6","v":0},{"t":"4","p":"7","v":0},{"t":"4","p":"8","v":0},{"t":"4","p":"9","v":0},
{"t":"5","p":"0","v":0},{"t":"5","p":"1","v":0},{"t":"5","p":"10","v":0},{"t":"5","p":"11","v":0},{"t":"5","p":"12","v":0},{"t":"5","p":"13","v":0},{"t":"5","p":"14","v":0},{"t":"5","p":"15","v":0},{"t":"5","p":"16","v":0},{"t":"5","p":"17","v":0},{"t":"5","p":"18","v":0},{"t":"5","p":"19","v":0},{"t":"5","p":"2","v":0},{"t":"5","p":"20","v":0},{"t":"5","p":"21","v":0},{"t":"5","p":"22","v":0},{"t":"5","p":"23","v":0},{"t":"5","p":"24","v":0},{"t":"5","p":"25","v":0},{"t":"5","p":"26","v":0},{"t":"5","p":"27","v":0},{"t":"5","p":"28","v":0},{"t":"5","p":"29","v":0},{"t":"5","p":"3","v":0},{"t":"5","p":"30","v":0},{"t":"5","p":"31","v":0},{"t":"5","p":"32","v":0},{"t":"5","p":"33","v":0},{"t":"5","p":"34","v":0},{"t":"5","p":"35","v":0},{"t":"5","p":"36","v":0},{"t":"5","p":"37","v":0},{"t":"5","p":"4","v":0},{"t":"5","p":"5","v":1},{"t":"5","p":"6","v":0},{"t":"5","p":"7","v":0},{"t":"5","p":"8","v":0},{"t":"5","p":"9","v":0},
{"t":"6","p":"0","v":0},{"t":"6","p":"1","v":0},{"t":"6","p":"10","v":0},{"t":"6","p":"11","v":0},{"t":"6","p":"12","v":0},{"t":"6","p":"13","v":0},{"t":"6","p":"14","v":0},{"t":"6","p":"15","v":0},{"t":"6","p":"16","v":0},{"t":"6","p":"17","v":0},{"t":"6","p":"18","v":0},{"t":"6","p":"19","v":0},{"t":"6","p":"2","v":0},{"t":"6","p":"20","v":0},{"t":"6","p":"21","v":0},{"t":"6","p":"22","v":0},{"t":"6","p":"23","v":0},{"t":"6","p":"24","v":0},{"t":"6","p":"25","v":0},{"t":"6","p":"26","v":0},{"t":"6","p":"27","v":0},{"t":"6","p":"28","v":0},{"t":"6","p":"29","v":0},{"t":"6","p":"3","v":0},{"t":"6","p":"30","v":0},{"t":"6","p":"31","v":0},{"t":"6","p":"32","v":0},{"t":"6","p":"33","v":0},{"t":"6","p":"34","v":0},{"t":"6","p":"35","v":0},{"t":"6","p":"36","v":0},{"t":"6","p":"37","v":0},{"t":"6","p":"4","v":0},{"t":"6","p":"5","v":0},{"t":"6","p":"6","v":1},{"t":"6","p":"7","v":0},{"t":"6","p":"8","v":0},{"t":"6","p":"9","v":0},
{"t":"7","p":"0","v":0},{"t":"7","p":"1","v":0},{"t":"7","p":"10","v":0},{"t":"7","p":"11","v":0},{"t":"7","p":"12","v":0},{"t":"7","p":"13","v":0},{"t":"7","p":"14","v":0},{"t":"7","p":"15","v":0},{"t":"7","p":"16","v":0},{"t":"7","p":"17","v":0},{"t":"7","p":"18","v":0},{"t":"7","p":"19","v":0},{"t":"7","p":"2","v":0},{"t":"7","p":"20","v":0},{"t":"7","p":"21","v":0},{"t":"7","p":"22","v":0},{"t":"7","p":"23","v":0},{"t":"7","p":"24","v":0},{"t":"7","p":"25","v":0},{"t":"7","p":"26","v":0},{"t":"7","p":"27","v":0},{"t":"7","p":"28","v":0},{"t":"7","p":"29","v":0},{"t":"7","p":"3","v":0},{"t":"7","p":"30","v":0},{"t":"7","p":"31","v":0},{"t":"7","p":"32","v":0},{"t":"7","p":"33","v":0},{"t":"7","p":"34","v":0},{"t":"7","p":"35","v":0},{"t":"7","p":"36","v":0},{"t":"7","p":"37","v":0},{"t":"7","p":"4","v":0},{"t":"7","p":"5","v":0},{"t":"7","p":"6","v":0},{"t":"7","p":"7","v":1},{"t":"7","p":"8","v":0},{"t":"7","p":"9","v":0},
{"t":"8","p":"0","v":0},{"t":"8","p":"1","v":0},{"t":"8","p":"10","v":0},{"t":"8","p":"11","v":0},{"t":"8","p":"12","v":0},{"t":"8","p":"13","v":0},{"t":"8","p":"14","v":0},{"t":"8","p":"15","v":0},{"t":"8","p":"16","v":0},{"t":"8","p":"17","v":0},{"t":"8","p":"18","v":0},{"t":"8","p":"19","v":0},{"t":"8","p":"2","v":0},{"t":"8","p":"20","v":0},{"t":"8","p":"21","v":0},{"t":"8","p":"22","v":0},{"t":"8","p":"23","v":0},{"t":"8","p":"24","v":0},{"t":"8","p":"25","v":0},{"t":"8","p":"26","v":0},{"t":"8","p":"27","v":0},{"t":"8","p":"28","v":0},{"t":"8","p":"29","v":0},{"t":"8","p":"3","v":0},{"t":"8","p":"30","v":0},{"t":"8","p":"31","v":0},{"t":"8","p":"32","v":0},{"t":"8","p":"33","v":0},{"t":"8","p":"34","v":0},{"t":"8","p":"35","v":0},{"t":"8","p":"36","v":0},{"t":"8","p":"37","v":0},{"t":"8","p":"4","v":0},{"t":"8","p":"5","v":0},{"t":"8","p":"6","v":0},{"t":"8","p":"7","v":0.026},{"t":"8","p":"8","v":0.98},{"t":"8","p":"9","v":0},
{"t":"9","p":"0","v":0},{"t":"9","p":"1","v":0},{"t":"9","p":"10","v":0},{"t":"9","p":"11","v":0},{"t":"9","p":"12","v":0},{"t":"9","p":"13","v":0},{"t":"9","p":"14","v":0},{"t":"9","p":"15","v":0},{"t":"9","p":"16","v":0},{"t":"9","p":"17","v":0},{"t":"9","p":"18","v":0},{"t":"9","p":"19","v":0},{"t":"9","p":"2","v":0},{"t":"9","p":"20","v":0},{"t":"9","p":"21","v":0},{"t":"9","p":"22","v":0},{"t":"9","p":"23","v":0},{"t":"9","p":"24","v":0},{"t":"9","p":"25","v":0},{"t":"9","p":"26","v":0},{"t":"9","p":"27","v":0},{"t":"9","p":"28","v":0},{"t":"9","p":"29","v":0},{"t":"9","p":"3","v":0},{"t":"9","p":"30","v":0},{"t":"9","p":"31","v":0},{"t":"9","p":"32","v":0},{"t":"9","p":"33","v":0},{"t":"9","p":"34","v":0},{"t":"9","p":"35","v":0},{"t":"9","p":"36","v":0},{"t":"9","p":"37","v":0},{"t":"9","p":"4","v":0},{"t":"9","p":"5","v":0},{"t":"9","p":"6","v":0},{"t":"9","p":"7","v":0},{"t":"9","p":"8","v":0},{"t":"9","p":"9","v":1}
]},
"data":{"name":"cm"},
"encoding":{
"x":{"field":"p","type":"nominal","sort":null,"scale":{"paddingInner":0,"paddingOuter":0},"axis":{"labelAngle":0,"labelPadding":3,"orient":"bottom"}},
"y":{"field":"t","type":"nominal","sort":null,"scale":{"paddingInner":0,"paddingOuter":0},"axis":{"labelAngle":270,"labelPadding":5,"orient":"left"}}
},
"layer":[
{"mark":{"type":"rect"},"encoding":{
"color":{"field":"v","type":"quantitative","scale":{"domain":[0,0.142857,0.285714,0.428571,0.571429,0.714286,0.857143,1],"range":["#03051a","#35193e","#701f57","#ad1759","#e13342","#f37651","#f6b48f","#faebdd"],"interpolate":"rgb"},"legend":{"type":"gradient","title":null,"orient":"right","offset":94,"values":[0,0.2,0.4,0.6,0.8,1],"format":".1f","gradientLength":1750,"gradientThickness":88,"gradientStrokeWidth":0,"labelFontSize":14,"labelFont":"DejaVu Sans","labelColor":"#262626","labelOffset":6,"padding":0,"encode":{"labels":{"update":{"baseline":{"value":"middle"}}}}}}
}},
{"mark":{"type":"text","fontSize":14,"font":"DejaVu Sans"},"encoding":{"text":{"field":"v","type":"quantitative","format":".2~g"},"color":{"condition":{"test":"datum.v > 0.7","value":"#262626"},"value":"#ffffff"}}}
]
}
